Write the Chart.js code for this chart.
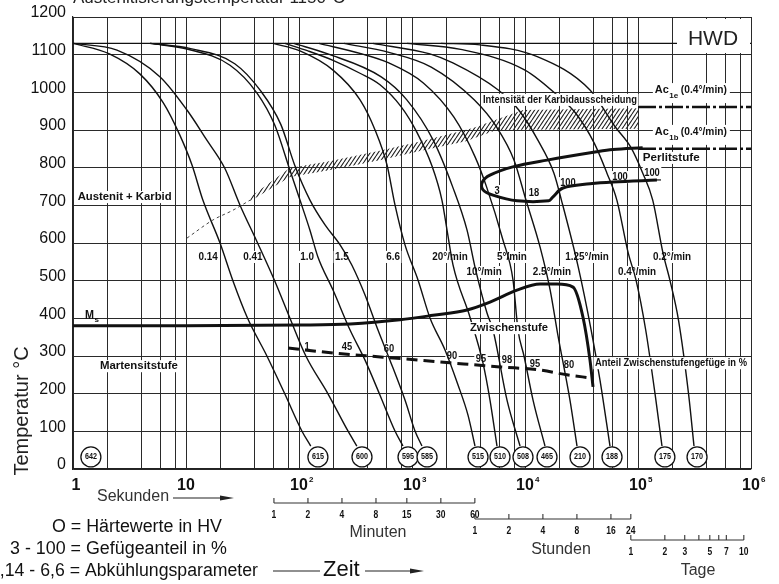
<!DOCTYPE html>
<html lang="de">
<head>
<meta charset="utf-8">
<title>ZTU-Schaubild HWD</title>
<script src="https://cdn.jsdelivr.net/npm/chart.js@4.4.1/dist/chart.umd.min.js"></script>
<style>
  html, body { margin: 0; padding: 0; background: #fff; }
  canvas { display: block; }
</style>
</head>
<body>
<canvas id="ztu" width="779" height="584"></canvas>
<script>
// Abkühlungsverläufe: [Zeit in s, Temperatur in °C]
const kurve014 = [[1,1130],[2.1,1102],[3.9,1049],[6.3,972],[8.8,887],[11.3,807],[14.1,714],[20,600],[26,500],[35,401],[52,300],[75,199],[106,101],[127,61]];
const kurve041 = [[1,1130],[2.45,1112],[5.9,1041],[10.2,953],[15.3,873],[22,799],[30,701],[43,600],[61,499],[83,401],[115,300],[181,199],[271,101],[325,61]];
const kurve10 = [[4.8,1130],[10.2,1115],[24.5,1072],[42.5,998],[61,913],[83,794],[102,714],[125,634],[147,563],[200,475],[283,369],[384,289],[521,196],[707,101],[832,61]];
const kurve15 = [[4.8,1130],[11,1116],[27,1076],[46,1003],[69,915],[92,805],[125,714],[170,648],[231,595],[294,541],[384,462],[500,369],[638,289],[867,183],[1063,101],[1225,61]];
const kurve66 = [[59,1130],[102,1110],[200,1059],[347,980],[471,900],[601,807],[707,701],[867,595],[1130,502],[1443,401],[1960,316],[2555,223],[3130,143],[3610,61]];
const kurve20min = [[75,1130],[120,1110],[200,1085],[350,1050],[521,1020],[800,962],[1100,895],[1500,805],[1840,714],[2040,635],[2306,542],[3260,403],[4250,281],[4900,183],[5650,61]];
const kurve10min = [[90,1130],[180,1102],[534,1041],[900,980],[1540,873],[2290,749],[3070,634],[3610,536],[4610,414],[5210,369],[6930,183],[9040,61]];
const kurve5min = [[150,1130],[360,1102],[624,1078],[1260,1025],[2350,934],[3624,828],[4570,749],[6380,608],[7830,502],[8670,369],[9800,300],[11780,183],[15030,61]];
const kurve25min = [[250,1130],[624,1106],[1480,1067],[3550,980],[5600,908],[8000,820],[10200,714],[13600,589],[16700,475],[19400,361],[25000,183],[28850,61]];
const kurve125min = [[450,1130],[1440,1102],[2300,1078],[5800,1006],[8800,953],[13000,873],[18000,786],[21000,714],[29600,536],[38500,369],[46100,236],[56500,61]];
const kurve04min = [[900,1130],[2700,1114],[10000,1059],[20000,988],[28000,945],[41000,865],[53000,786],[65000,714],[82000,573],[96000,502],[117000,369],[144000,183],[163000,61]];
const kurve02min = [[1800,1130],[4000,1126],[13000,1094],[37600,1006],[63000,908],[86000,855],[110000,786],[135000,714],[166500,573],[192000,500],[228000,396],[280000,200],[313000,61]];

const kurvenNamen = ['0.14','0.41','1.0','1.5','6.6','20°/min','10°/min','5°/min','2.5°/min','1.25°/min','0.4°/min','0.2°/min'];

// Linien der Umwandlungsbereiche
const austenitLinie = [[1,1130],[1000000,1130]];
const msLinie = [[1,380],[10,380],[100,382],[283,385],[783,396],[1535,408],[3070,422],[4900,443],[8490,475],[13580,491],[19200,491],[26600,483],[32600,403],[37600,289],[40000,218]];
const anteilLinie = [[80,321],[200,308],[554,297],[2170,282],[6010,271],[13580,263],[23500,250],[37600,242]];
const perlitNase = [[110000,853],[60000,848],[43000,842],[15700,820],[7800,802],[4900,780],[4200,762],[4250,741],[5200,727],[8500,712],[16200,712],[17600,722],[21700,746],[37600,757],[60000,762],[147000,767]];
const karbidOben = [[37,722],[83,799],[190,818],[520,845],[1200,870],[3470,905],[9600,953],[100000,958]];
const karbidUnten = [[37,711],[83,775],[190,794],[520,820],[1200,845],[3000,870],[5600,900],[100000,903]];
const karbidStrich = [[10.2,613],[17.3,661],[26,687],[37,714]];
const ac1e = [[100000,961],[1000000,961]];
const ac1b = [[100000,850],[1000000,850]];

// Härtewerte in HV (Kreise am Kurvenende)
const haerteZeit = [1.44,147,361,922,1358,3840,6010,9600,15660,30700,58900,173000,333000];
const haerteWert = [642,615,600,595,585,515,510,508,465,210,188,175,170];
const haerteTemp = 32;

// Gefügeanteile
const zwischenAnteil = [['1',118,324],['45',266,324],['60',626,318],['90',2260,300],['95',4080,292],['98',6930,289],['95',12250,279],['80',24500,276]];
const perlitAnteil = [['3',5650,738],['18',12000,733],['100',24000,759],['100',69300,775],['100',133000,786]];

// Achsen
const gitterMantissen = [1,2,4,6,8];
const dekaden = [0,1,2,3,4,5];
const minutenTicks = [1,2,4,8,15,30,60];
const stundenTicks = [1,2,4,8,16,24];
const tageTicks = [1,2,3,4,5,6,7,10];
const tageLabels = [1,2,3,5,7,10];

const gitterZeiten = [];
dekaden.forEach(e => gitterMantissen.forEach(m => gitterZeiten.push(m * Math.pow(10, e))));
gitterZeiten.push(1000000);

// Beschriftung der Kurven (Ort in Zeit / Temperatur)
const kurvenOrte = [[15.7,563],[39,563],[118,563],[240,563],[680,563],[2170,563],[4340,523],[7670,563],[17300,523],[35400,563],[98000,523],[200000,563]];
const bereichsTexte = [
  ['Austenit + Karbid', 1.1, 722, 94],
  ['Martensitstufe', 1.73, 273, 78],
  ['Zwischenstufe', 3260, 374, 78],
  ['Anteil Zwischenstufengefüge in %', 41600, 281, 152],
  ['Intensität der Karbidausscheidung', 4250, 980, 154],
  ['Perlitstufe', 110000, 826, 57]
];

const SCHRIFT = '"Liberation Sans", Arial, Helvetica, sans-serif';

function schreibe(ctx, text, x, y, o) {
  o = o || {};
  const size = o.size || 11;
  ctx.save();
  ctx.font = (o.bold ? 'bold ' : '') + size + 'px ' + SCHRIFT;
  ctx.textBaseline = 'middle';
  ctx.textAlign = 'left';
  const roh = ctx.measureText(text).width;
  const sx = o.breite ? o.breite / roh : (o.sx || 1);
  const w = roh * sx;
  let x0 = x;
  if (o.align === 'center') x0 = x - w / 2;
  else if (o.align === 'right') x0 = x - w;
  if (o.bg) {
    ctx.fillStyle = '#fff';
    ctx.fillRect(x0 - 1.5, y - size * 0.55, w + 3, size * 1.1);
  }
  if (!o.nurBg) {
    ctx.translate(x0, y);
    ctx.scale(sx, 1);
    ctx.fillStyle = o.farbe || '#111';
    ctx.fillText(text, 0, 0);
  }
  ctx.restore();
  return x0 + w;
}

function pfeil(ctx, x1, x2, y) {
  ctx.save();
  ctx.strokeStyle = '#222';
  ctx.fillStyle = '#222';
  ctx.lineWidth = 1.2;
  ctx.beginPath(); ctx.moveTo(x1, y); ctx.lineTo(x2 - 8, y); ctx.stroke();
  ctx.beginPath(); ctx.moveTo(x2, y); ctx.lineTo(x2 - 14, y - 2.5); ctx.lineTo(x2 - 14, y + 2.5); ctx.closePath(); ctx.fill();
  ctx.restore();
}

function schraffur() {
  const c = document.createElement('canvas');
  c.width = 4; c.height = 6;
  const g = c.getContext('2d');
  g.strokeStyle = '#222';
  g.lineWidth = 1.1;
  g.beginPath();
  g.moveTo(0, 6); g.lineTo(4, 0);
  g.moveTo(-4, 6); g.lineTo(0, 0);
  g.moveTo(4, 6); g.lineTo(8, 0);
  g.stroke();
  return g.createPattern(c, 'repeat');
}

const punkte = a => a.map(p => ({ x: p[0], y: p[1] }));

function kurve(daten, extra) {
  return Object.assign({
    data: punkte(daten), showLine: true, pointRadius: 0, borderColor: '#111',
    borderWidth: 1.4, fill: false, cubicInterpolationMode: 'monotone', order: 5
  }, extra || {});
}

const alleKurven = [kurve014, kurve041, kurve10, kurve15, kurve66, kurve20min, kurve10min, kurve5min, kurve25min, kurve125min, kurve04min, kurve02min];

const datasets = [
  { data: punkte(karbidOben), showLine: true, pointRadius: 0, borderWidth: 0, borderColor: 'rgba(0,0,0,0)',
    backgroundColor: schraffur(), fill: '+1', tension: 0, order: 10 },
  { data: punkte(karbidUnten), showLine: true, pointRadius: 0, borderWidth: 0, borderColor: 'rgba(0,0,0,0)',
    fill: false, tension: 0, order: 10 },
  kurve(karbidStrich, { borderWidth: 1, borderDash: [3, 3], borderColor: '#444' }),
  kurve(austenitLinie, { borderWidth: 1.4 })
];
alleKurven.forEach(k => datasets.push(kurve(k)));
datasets.push(kurve(msLinie, { borderWidth: 3, order: 3 }));
datasets.push(kurve(anteilLinie, { borderWidth: 3, borderDash: [11, 6], order: 3 }));
datasets.push(kurve(perlitNase, { borderWidth: 3, cubicInterpolationMode: 'default', tension: 0.35, order: 3 }));
datasets.push(kurve(ac1e, { borderWidth: 2.5, borderDash: [18, 3, 3, 3], order: 3 }));
datasets.push(kurve(ac1b, { borderWidth: 2.5, borderDash: [18, 3, 3, 3], order: 3 }));
const kreisIndex = datasets.length;
datasets.push({
  data: haerteZeit.map(t => ({ x: t, y: haerteTemp })), showLine: false,
  pointRadius: 10, pointBorderWidth: 1.3, pointBackgroundColor: '#fff', pointBorderColor: '#111', order: 0
});

const beschriftung = {
  id: 'beschriftung',
  beforeDatasetsDraw(chart) {
    const c = chart.ctx, xs = chart.scales.x, ys = chart.scales.y;
    // weisse Flächen hinter Kurvenbeschriftungen (verdecken nur das Gitter)
    kurvenNamen.forEach((n, i) => {
      schreibe(c, n, xs.getPixelForValue(kurvenOrte[i][0]), ys.getPixelForValue(kurvenOrte[i][1]),
        { bold: true, size: 11, sx: 0.9, align: 'center', bg: true, nurBg: true });
    });
    zwischenAnteil.concat(perlitAnteil).forEach(a => {
      schreibe(c, a[0], xs.getPixelForValue(a[1]), ys.getPixelForValue(a[2]),
        { bold: true, size: 11, sx: 0.85, align: 'center', bg: true, nurBg: true });
    });
  },
  afterDatasetsDraw(chart) {
    const c = chart.ctx, xs = chart.scales.x, ys = chart.scales.y;
    const X = t => xs.getPixelForValue(t), Y = T => ys.getPixelForValue(T);

    kurvenNamen.forEach((n, i) => {
      schreibe(c, n, X(kurvenOrte[i][0]), Y(kurvenOrte[i][1]), { bold: true, size: 11, sx: 0.9, align: 'center' });
    });
    zwischenAnteil.concat(perlitAnteil).forEach(a => {
      schreibe(c, a[0], X(a[1]), Y(a[2]), { bold: true, size: 11, sx: 0.85, align: 'center' });
    });
    // letzter Perlitanteil unterstrichen
    const u = perlitAnteil[perlitAnteil.length - 1];
    c.save(); c.strokeStyle = '#111'; c.lineWidth = 1.2;
    c.beginPath(); c.moveTo(X(u[1]) - 8, Y(u[2]) + 7); c.lineTo(X(u[1]) + 9, Y(u[2]) + 7); c.stroke(); c.restore();

    bereichsTexte.forEach(b => {
      schreibe(c, b[0], X(b[1]), Y(b[2]), { bold: true, size: 11, breite: b[3], bg: true });
    });

    // Ms
    let mx = schreibe(c, 'M', X(1.28), Y(406), { bold: true, size: 12, sx: 0.9 });
    schreibe(c, 's', mx + 0.5, Y(406) + 4, { bold: true, size: 8 });

    // Ac1e / Ac1b
    [['1e', 1006], ['1b', 895]].forEach(a => {
      const x0 = X(141000), y0 = Y(a[1]);
      c.save(); c.fillStyle = '#fff'; c.fillRect(x0 - 2, y0 - 7, 77, 20); c.restore();
      let x1 = schreibe(c, 'Ac', x0, y0, { bold: true, size: 11, breite: 14 });
      schreibe(c, a[0], x1 + 0.5, y0 + 6, { bold: true, size: 8, breite: 9 });
      schreibe(c, '(0.4°/min)', x1 + 12, y0, { bold: true, size: 11, breite: 46 });
    });

    // Härtewerte in den Kreisen
    const meta = chart.getDatasetMeta(kreisIndex);
    meta.data.forEach((p, i) => {
      schreibe(c, String(haerteWert[i]), p.x, p.y, { bold: true, size: 9, sx: 0.8, align: 'center' });
    });

    // HWD
    c.save(); c.fillStyle = '#fff'; c.fillRect(677, 19, 73, 34); c.restore();
    schreibe(c, 'HWD', 713, 39, { size: 21, align: 'center', farbe: '#222' });
  },
  afterDraw(chart) {
    const c = chart.ctx, xs = chart.scales.x;
    const X = t => xs.getPixelForValue(t);

    // Titel (oben abgeschnitten)
    c.save();
    c.font = '17px ' + SCHRIFT; c.fillStyle = '#222'; c.textBaseline = 'alphabetic';
    c.fillText('Austenitisierungstemperatur 1150°C', 73, 3);
    c.restore();

    // x-Achsenbeschriftung 1 ... 10^6
    for (let e = 0; e <= 6; e++) {
      const px = X(Math.pow(10, e));
      if (e === 0) schreibe(c, '1', px + 3, 486, { bold: true, size: 16, align: 'center' });
      else if (e === 1) schreibe(c, '10', px, 486, { bold: true, size: 16, align: 'center' });
      else {
        const r = schreibe(c, '10', px, 486, { bold: true, size: 16, align: 'center' });
        schreibe(c, String(e), r + 1, 480, { bold: true, size: 8 });
      }
    }

    // y-Achsentitel
    c.save();
    c.translate(22, 411); c.rotate(-Math.PI / 2);
    c.font = '20px ' + SCHRIFT; c.fillStyle = '#222'; c.textAlign = 'center'; c.textBaseline = 'middle';
    c.fillText('Temperatur °C', 0, 0);
    c.restore();

    // Sekunden
    schreibe(c, 'Sekunden', 97, 497, { size: 16, farbe: '#333' });
    pfeil(c, 173, 234, 498);

    // Zeitskalen
    c.save();
    c.strokeStyle = '#333'; c.lineWidth = 1.1;
    const skala = (werte, faktor, y) => {
      c.beginPath();
      c.moveTo(X(werte[0] * faktor), y); c.lineTo(X(werte[werte.length - 1] * faktor), y);
      werte.forEach(v => { c.moveTo(X(v * faktor), y); c.lineTo(X(v * faktor), y - 5); });
      c.stroke();
    };
    skala(minutenTicks, 60, 503);
    skala(stundenTicks, 3600, 519);
    skala(tageTicks, 86400, 540);
    c.restore();
    minutenTicks.forEach(v => schreibe(c, String(v), X(v * 60), 515, { bold: true, size: 10, sx: 0.85, align: 'center' }));
    stundenTicks.forEach(v => schreibe(c, String(v), X(v * 3600), 531, { bold: true, size: 10, sx: 0.85, align: 'center' }));
    tageLabels.forEach(v => schreibe(c, String(v), X(v * 86400), 552, { bold: true, size: 10, sx: 0.85, align: 'center' }));
    schreibe(c, 'Minuten', 378, 533, { size: 16, align: 'center', farbe: '#333' });
    schreibe(c, 'Stunden', 561, 550, { size: 16, align: 'center', farbe: '#333' });
    schreibe(c, 'Tage', 698, 571, { size: 16, align: 'center', farbe: '#333' });

    // Legende
    schreibe(c, 'O = Härtewerte in HV', 52, 527, { size: 18, breite: 170 });
    schreibe(c, '3 - 100 = Gefügeanteil in %', 10, 549, { size: 18, breite: 217 });
    schreibe(c, '0,14 - 6,6 = Abkühlungsparameter', 258, 571, { size: 18, breite: 268, align: 'right' });

    // Zeit
    c.save(); c.strokeStyle = '#222'; c.lineWidth = 1.2;
    c.beginPath(); c.moveTo(273, 571); c.lineTo(320, 571); c.stroke(); c.restore();
    schreibe(c, 'Zeit', 323, 570, { size: 22 });
    pfeil(c, 365, 424, 571);
  }
};

new Chart(document.getElementById('ztu').getContext('2d'), {
  type: 'scatter',
  data: { datasets: datasets },
  options: {
    responsive: false,
    animation: false,
    events: [],
    layout: { padding: { top: 17, right: 28, left: 0, bottom: 0 } },
    plugins: { legend: { display: false }, tooltip: { enabled: false } },
    scales: {
      x: {
        type: 'logarithmic', min: 1, max: 1000000,
        afterBuildTicks: s => { s.ticks = gitterZeiten.map(v => ({ value: v })); },
        afterFit: s => { s.height = 115; },
        ticks: { display: false },
        grid: { color: '#2a2a2a', lineWidth: 1, drawTicks: false },
        border: { color: '#222', width: 1.2 }
      },
      y: {
        type: 'linear', min: 0, max: 1200,
        afterFit: s => { s.width = 73; },
        ticks: { stepSize: 100, padding: 7, labelOffset: -4, color: '#111',
                 font: { family: 'Liberation Sans', size: 16 },
                 callback: v => String(v) },
        grid: { color: '#2a2a2a', lineWidth: 1, drawTicks: false },
        border: { color: '#222', width: 1.2 }
      }
    }
  },
  plugins: [beschriftung]
});
</script>
</body>
</html>
